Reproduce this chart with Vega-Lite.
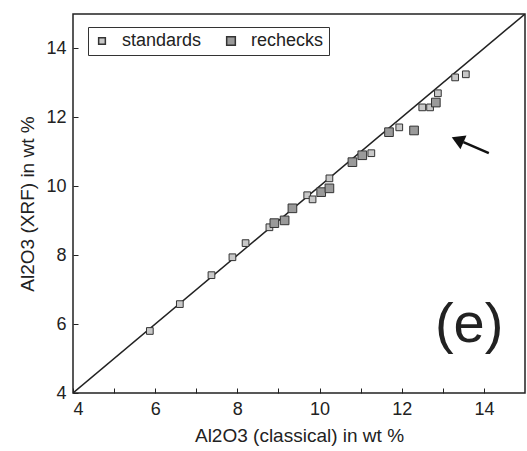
{
  "$schema": "https://vega.github.io/schema/vega-lite/v6.json",
  "width": 452,
  "height": 379,
  "autosize": {"type": "none"},
  "padding": {"left": 73, "top": 14, "right": 2, "bottom": 58},
  "background": "white",
  "config": {
    "font": "Liberation Sans",
    "view": {"stroke": "#222", "strokeWidth": 1.5},
    "axis": {"grid": false, "domain": false, "tickColor": "#222", "tickSize": -5, "labelFontSize": 18, "labelColor": "#222", "titleFontSize": 19, "titleFontWeight": "normal", "titleColor": "#222"},
    "legend": {"labelFont": "Liberation Sans"}
  },
  "datasets": {
    "pts": [
      {"cls": "standards", "x": 5.87, "y": 5.80},
      {"cls": "standards", "x": 6.60, "y": 6.58},
      {"cls": "standards", "x": 7.37, "y": 7.42},
      {"cls": "standards", "x": 7.88, "y": 7.94},
      {"cls": "standards", "x": 8.20, "y": 8.35},
      {"cls": "standards", "x": 8.78, "y": 8.81},
      {"cls": "standards", "x": 9.70, "y": 9.74},
      {"cls": "standards", "x": 9.83, "y": 9.62},
      {"cls": "standards", "x": 10.24, "y": 10.23},
      {"cls": "standards", "x": 11.26, "y": 10.96},
      {"cls": "standards", "x": 11.94, "y": 11.71},
      {"cls": "standards", "x": 12.50, "y": 12.29},
      {"cls": "standards", "x": 12.69, "y": 12.29},
      {"cls": "standards", "x": 12.88, "y": 12.70},
      {"cls": "standards", "x": 13.30, "y": 13.16},
      {"cls": "standards", "x": 13.56, "y": 13.25},
      {"cls": "rechecks", "x": 8.90, "y": 8.93},
      {"cls": "rechecks", "x": 9.15, "y": 9.01},
      {"cls": "rechecks", "x": 9.34, "y": 9.36},
      {"cls": "rechecks", "x": 10.04, "y": 9.83},
      {"cls": "rechecks", "x": 10.24, "y": 9.94},
      {"cls": "rechecks", "x": 10.80, "y": 10.70},
      {"cls": "rechecks", "x": 11.04, "y": 10.90},
      {"cls": "rechecks", "x": 11.69, "y": 11.57},
      {"cls": "rechecks", "x": 12.30, "y": 11.62},
      {"cls": "rechecks", "x": 12.83, "y": 12.43}
    ],
    "diag": [{"x": 4, "y": 4, "x2": 15, "y2": 15}],
    "arrow": [{"x": 14.12, "y": 10.96, "x2": 13.5, "y2": 11.28, "hx": 13.36, "hy": 11.35}],
    "label": [{"x": 13.64, "y": 5.97, "t": "(e)"}]
  },
  "layer": [
    {
      "data": {"name": "diag"},
      "mark": {"type": "rule", "color": "#222", "strokeWidth": 1.5, "clip": true},
      "encoding": {
        "x": {"field": "x", "type": "quantitative", "scale": {"domain": [4, 15], "nice": false, "zero": false},
              "axis": {"values": [4,5,6,7,8,9,10,11,12,13,14], "labelExpr": "datum.value % 2 == 0 ? datum.label : ''", "title": "Al2O3 (classical) in wt %", "labelPadding": 12, "titlePadding": 8}},
        "y": {"field": "y", "type": "quantitative", "scale": {"domain": [4, 15], "nice": false, "zero": false},
              "axis": {"values": [4,5,6,7,8,9,10,11,12,13,14], "labelExpr": "datum.value % 2 == 0 ? datum.label : ''", "title": "Al2O3 (XRF) in wt %", "labelPadding": 12, "titlePadding": 8}},
        "x2": {"field": "x2"},
        "y2": {"field": "y2"}
      }
    },
    {
      "data": {"name": "pts"},
      "mark": {"type": "point", "shape": "square", "filled": true, "stroke": "#333", "strokeWidth": 1, "opacity": 1},
      "encoding": {
        "x": {"field": "x", "type": "quantitative"},
        "y": {"field": "y", "type": "quantitative"},
        "fill": {"field": "cls", "type": "nominal", "title": null, "scale": {"domain": ["standards", "rechecks"], "range": ["#c8c8c8", "#9a9a9a"]},
                 "legend": {"orient": "none", "legendX": 15, "legendY": 13, "direction": "horizontal", "strokeColor": "#333", "padding": 5, "labelFontSize": 18, "labelColor": "#222", "columnPadding": 20, "labelOffset": 11,
                            "encode": {"symbols": {"update": {"stroke": {"value": "#333"}, "strokeWidth": {"value": 1}}}}}},
        "size": {"field": "cls", "type": "nominal", "title": null, "scale": {"domain": ["standards", "rechecks"], "range": [45, 75]},
                 "legend": {"orient": "none", "legendX": 15, "legendY": 13, "direction": "horizontal", "strokeColor": "#333", "padding": 5, "labelFontSize": 18, "labelColor": "#222", "columnPadding": 20, "labelOffset": 11,
                            "encode": {"symbols": {"update": {"stroke": {"value": "#333"}, "strokeWidth": {"value": 1}}}}}}
      }
    },
    {
      "data": {"name": "arrow"},
      "mark": {"type": "rule", "color": "#111", "strokeWidth": 2.5},
      "encoding": {
        "x": {"field": "x", "type": "quantitative"},
        "y": {"field": "y", "type": "quantitative"},
        "x2": {"field": "x2"},
        "y2": {"field": "y2"}
      }
    },
    {
      "data": {"name": "arrow"},
      "mark": {"type": "point", "shape": "triangle-up", "filled": true, "color": "#111", "size": 220, "angle": 294, "opacity": 1},
      "encoding": {
        "x": {"field": "hx", "type": "quantitative"},
        "y": {"field": "hy", "type": "quantitative"}
      }
    },
    {
      "data": {"name": "label"},
      "mark": {"type": "text", "fontSize": 56, "font": "Liberation Sans", "color": "#222", "align": "center", "baseline": "middle"},
      "encoding": {
        "x": {"field": "x", "type": "quantitative"},
        "y": {"field": "y", "type": "quantitative"},
        "text": {"field": "t"}
      }
    }
  ]
}
